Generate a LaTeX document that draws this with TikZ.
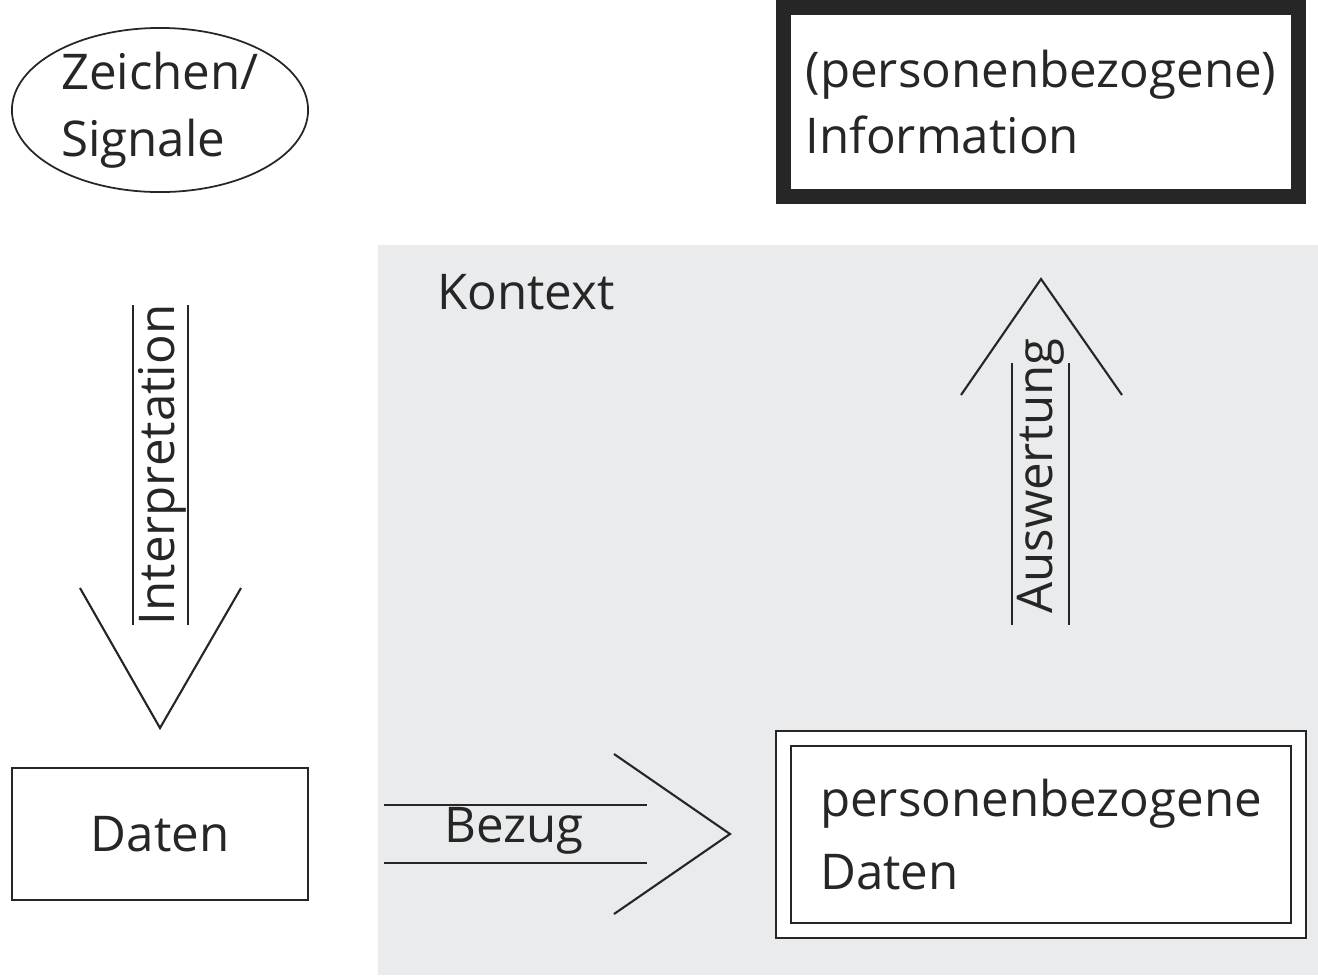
\documentclass[tikz,border=0pt]{standalone}
\usepackage{fontspec}
\setmainfont{Open Sans}
\usetikzlibrary{shapes.geometric,positioning,calc}
\definecolor{kontextgrau}{RGB}{234,235,236}
\definecolor{linie}{RGB}{38,38,38}
\tikzset{
    schrift/.style ={
        font=\fontsize{14pt}{19pt}\selectfont,
        text=linie
    },
    oval/.style ={
        shape=ellipse,
        draw=linie,
        line width=0.5pt,
        inner sep=0pt,
        align=left,
        minimum width=2.96cm,
        minimum height=1.56cm
    },
    box/.style ={
        shape=rectangle,
        draw=linie,
        fill=white,
        line width=0.6pt,
        align=left
    },
    infobox/.style ={
        box,
        line width=0.15cm,
        minimum width=5.15cm,
        minimum height=1.89cm
    },
    doppelbox/.style ={
        box,
        font=\fontsize{14pt}{20.5pt}\selectfont,
        line width=0.55pt,
        double=white,
        double distance=0.13cm,
        minimum width=5.15cm,
        minimum height=1.92cm
    },
    pfeil/.style ={
        draw=linie,
        line width=0.6pt
    }
}

\begin{document}
\begin{tikzpicture}[x=0.01cm,y=-0.01cm,every node/.style={schrift}]
        \useasboundingbox (0,0) rectangle (1318,975);
        \fill[kontextgrau] (378,245) rectangle (1318,975);
        \node[oval] (zeichen) at (160,110) {Zeichen/\\Signale};
        \node[infobox] (info) at (1041,102) {(personenbezogene)\\Information};
        \node[box,minimum width=2.96cm,minimum height=1.32cm] (daten) at (160,834) {Daten};
        \node[doppelbox] (pdaten) at (1041,834.5) {personenbezogene\\Daten};
        \node (kontext) at (526,292) {Kontext};
        % Interpretation
        \coordinate (itip) at (160,728);
        \draw[pfeil] ($(itip)+(-80,-140)$) -- (itip) -- ($(itip)+(81,-140)$);
        \draw[pfeil] ($(itip)+(-27,-423)$) -- ($(itip)+(-27,-103)$);
        \draw[pfeil] ($(itip)+(28,-423)$) -- ($(itip)+(28,-103)$);
        \node[rotate=90] (interpretation) at (162,465) {Interpretation};
        % Auswertung
        \coordinate (atip) at (1041,279);
        \draw[pfeil] ($(atip)+(-80,116)$) -- (atip) -- ($(atip)+(81,116)$);
        \draw[pfeil] ($(atip)+(-29,84)$) -- ($(atip)+(-29,346)$);
        \draw[pfeil] ($(atip)+(28,84)$) -- ($(atip)+(28,346)$);
        \node[rotate=90] (auswertung) at (1041,476) {Auswertung};
        % Bezug
        \coordinate (btip) at (730,834);
        \draw[pfeil] ($(btip)+(-116,-80)$) -- (btip) -- ($(btip)+(-116,80)$);
        \draw[pfeil] ($(btip)+(-346,-29)$) -- ($(btip)+(-83,-29)$);
        \draw[pfeil] ($(btip)+(-346,29)$) -- ($(btip)+(-83,29)$);
        \node (bezug) at (514,831) {Bezug};
    \end{tikzpicture}
\end{document}
